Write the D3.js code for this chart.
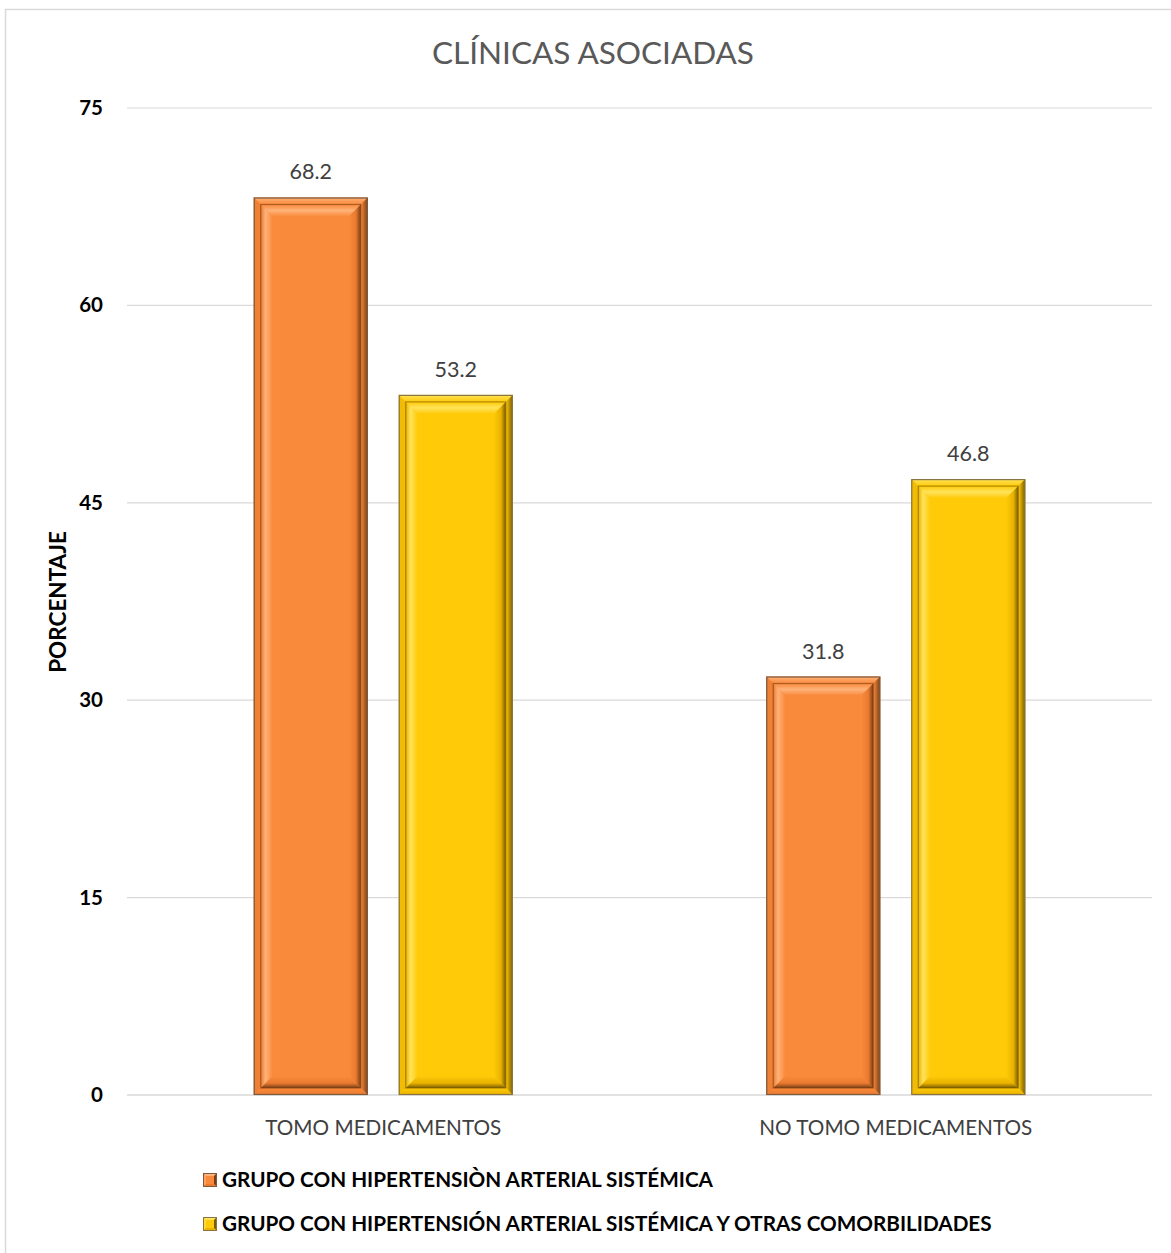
<!DOCTYPE html>
<html>
<head>
<meta charset="utf-8">
<script src="https://cdn.jsdelivr.net/npm/d3@7"></script>
<style>
  html, body { margin: 0; padding: 0; background: #fff; }
  svg { display: block; font-family: Lato, "Open Sans", sans-serif; }
</style>
</head>
<body>
<svg id="chart" width="1171" height="1253"></svg>
<script>
// Chart data
const title = "CLÍNICAS ASOCIADAS";
const categories = ["TOMO MEDICAMENTOS", "NO TOMO MEDICAMENTOS"];
const seriesNames = [
  "GRUPO CON HIPERTENSIÒN ARTERIAL SISTÉMICA",
  "GRUPO CON HIPERTENSIÓN ARTERIAL SISTÉMICA Y OTRAS COMORBILIDADES"
];
const hipertension = [68.2, 31.8];
const hipertensionComorbilidades = [53.2, 46.8];
const yTicks = [0, 15, 30, 45, 60, 75];
const yLabel = "PORCENTAJE";

const series = [hipertension, hipertensionComorbilidades];
const palette = [
  { main: "#FA8A3B", light: "#FFB27A", mid: "#E97A30", dark: "#7A3E14", edge: "#7B5A40" },
  { main: "#FFCA08", light: "#FFE35A", mid: "#E8B200", dark: "#7A5C00", edge: "#8A7440" }
];

const svg = d3.select("#chart");
const W = 1171, H = 1253;
const plot = { left: 127, right: 1152, top: 108, bottom: 1095 };
const groupWidth = 259;

// Outer chart frame
svg.append("rect")
  .attr("x", 5.5).attr("y", 9.5)
  .attr("width", W + 10).attr("height", H + 10)
  .attr("fill", "none").attr("stroke", "#d9d9d9").attr("stroke-width", 1.5);

const x0 = d3.scaleBand().domain(categories).range([plot.left, plot.right]);
const x1 = d3.scaleBand().domain(d3.range(series.length))
  .range([0, groupWidth]).paddingInner(0.214);
const y = d3.scaleLinear().domain([0, 75]).range([plot.bottom, plot.top]);

// Gradients for the bevelled bars
const defs = svg.append("defs");
palette.forEach((p, i) => {
  const mk = (id, x1g, y1g, x2g, y2g, stops) => {
    const g = defs.append("linearGradient").attr("id", id)
      .attr("x1", x1g).attr("y1", y1g).attr("x2", x2g).attr("y2", y2g);
    stops.forEach(([o, c]) => g.append("stop").attr("offset", o).attr("stop-color", c));
  };
  mk(`top${i}`, 0, 0, 0, 1, [[0, p.main], [0.5, p.light], [1, p.main]]);
  mk(`left${i}`, 0, 0, 1, 0, [[0, p.mid], [0.4, p.light], [1, p.main]]);
  mk(`right${i}`, 0, 0, 1, 0, [[0, p.main], [0.6, p.mid], [1, p.dark]]);
  mk(`bottom${i}`, 0, 0, 0, 1, [[0, p.main], [0.6, p.mid], [1, p.dark]]);
  mk(`otop${i}`, 0, 0, 0, 1, [[0, p.light], [1, p.main]]);
  mk(`oright${i}`, 0, 0, 1, 0, [[0, p.main], [1, p.dark]]);
  mk(`obottom${i}`, 0, 0, 0, 1, [[0, p.main], [1, p.mid]]);
});

// Gridlines
svg.append("g")
  .selectAll("line").data(yTicks).join("line")
  .attr("x1", plot.left).attr("x2", plot.right)
  .attr("y1", d => y(d)).attr("y2", d => y(d))
  .attr("stroke", "#d9d9d9").attr("stroke-width", d => d === 0 ? 1.5 : 1.2);

// Y axis tick labels
const yAxis = d3.axisLeft(y).tickValues(yTicks).tickSize(0).tickPadding(0);
const yg = svg.append("g").attr("transform", `translate(103,0)`).call(yAxis);
yg.select(".domain").remove();
yg.selectAll("text")
  .attr("font-family", "Lato, sans-serif")
  .attr("font-size", 20.5).attr("font-weight", "bold").attr("fill", "#000");

// Y axis title
svg.append("text")
  .attr("transform", `translate(66,602) rotate(-90)`)
  .attr("text-anchor", "middle")
  .attr("font-size", 22.5).attr("font-weight", "bold").attr("fill", "#000")
  .text(yLabel);

// Title
svg.append("text")
  .attr("x", 593).attr("y", 64)
  .attr("text-anchor", "middle")
  .attr("font-size", 31.5).attr("fill", "#595959")
  .text(title);

// Trapezoid helper for bevel strips
function strips(x0p, y0p, x1p, y1p, d) {
  return {
    top: [[x0p, y0p], [x1p, y0p], [x1p - d, y0p + d], [x0p + d, y0p + d]],
    bottom: [[x0p, y1p], [x1p, y1p], [x1p - d, y1p - d], [x0p + d, y1p - d]],
    left: [[x0p, y0p], [x0p + d, y0p + d], [x0p + d, y1p - d], [x0p, y1p]],
    right: [[x1p, y0p], [x1p - d, y0p + d], [x1p - d, y1p - d], [x1p, y1p]]
  };
}
const poly = pts => "M" + pts.map(p => p.join(",")).join("L") + "Z";

function bevelBar(g, bx, by, bw, bh, si) {
  const p = palette[si];
  const xa = bx, ya = by, xb = bx + bw, yb = by + bh;
  g.append("rect").attr("x", xa).attr("y", ya).attr("width", bw).attr("height", bh)
    .attr("fill", p.main);
  // outer frame
  const o = strips(xa, ya, xb, yb, 7);
  g.append("path").attr("d", poly(o.top)).attr("fill", `url(#otop${si})`);
  g.append("path").attr("d", poly(o.left)).attr("fill", p.mid).attr("opacity", 0.6);
  g.append("path").attr("d", poly(o.right)).attr("fill", `url(#oright${si})`);
  g.append("path").attr("d", poly(o.bottom)).attr("fill", `url(#obottom${si})`);
  // inner bevel
  const inn = strips(xa + 7, ya + 7, xb - 7, yb - 7, 12);
  g.append("path").attr("d", poly(inn.top)).attr("fill", `url(#top${si})`);
  g.append("path").attr("d", poly(inn.left)).attr("fill", `url(#left${si})`);
  g.append("path").attr("d", poly(inn.right)).attr("fill", `url(#right${si})`);
  g.append("path").attr("d", poly(inn.bottom)).attr("fill", `url(#bottom${si})`);
  g.append("rect").attr("x", xa + 7).attr("y", ya + 7).attr("width", bw - 14).attr("height", bh - 14)
    .attr("fill", "none").attr("stroke", p.dark).attr("stroke-opacity", 0.6).attr("stroke-width", 1.2);
  g.append("rect").attr("x", xa + 0.5).attr("y", ya + 0.5).attr("width", bw - 1).attr("height", bh - 1)
    .attr("fill", "none").attr("stroke", p.edge).attr("stroke-width", 1.2);
}

// Bars and value labels
const groups = svg.append("g").selectAll("g").data(categories).join("g")
  .attr("transform", c => `translate(${x0(c) + (x0.bandwidth() - groupWidth) / 2},0)`);

groups.each(function (c, ci) {
  const g = d3.select(this);
  series.forEach((s, si) => {
    const v = s[ci];
    const bx = x1(si), bw = x1.bandwidth();
    bevelBar(g, bx, y(v), bw, y(0) - y(v), si);
    g.append("text")
      .attr("x", bx + bw / 2).attr("y", y(v) - 18)
      .attr("text-anchor", "middle")
      .attr("font-size", 21.5).attr("fill", "#404040")
      .text(v.toFixed(1));
  });
});

// Category labels
svg.append("g").selectAll("text").data(categories).join("text")
  .attr("x", c => x0(c) + x0.bandwidth() / 2).attr("y", 1135)
  .attr("text-anchor", "middle")
  .attr("font-size", 20.7).attr("fill", "#404040")
  .text(c => c);

// Legend
const legend = svg.append("g").selectAll("g").data(seriesNames).join("g")
  .attr("transform", (d, i) => `translate(203,${1173 + i * 44})`);
legend.each(function (d, i) {
  const g = d3.select(this);
  const p = palette[i];
  const s = 14;
  const st = strips(0, 0, s, s, 3);
  g.append("rect").attr("width", s).attr("height", s).attr("fill", p.main);
  g.append("path").attr("d", poly(st.top)).attr("fill", p.light);
  g.append("path").attr("d", poly(st.left)).attr("fill", p.light).attr("opacity", 0.6);
  g.append("path").attr("d", poly(st.right)).attr("fill", p.dark);
  g.append("path").attr("d", poly(st.bottom)).attr("fill", p.mid);
  g.append("rect").attr("x", 0.5).attr("y", 0.5).attr("width", s - 1).attr("height", s - 1)
    .attr("fill", "none").attr("stroke", p.edge).attr("stroke-width", 1);
  g.append("text").attr("x", 19).attr("y", 14)
    .attr("font-size", 20.7).attr("font-weight", "bold").attr("fill", "#000")
    .text(d);
});
</script>
</body>
</html>
